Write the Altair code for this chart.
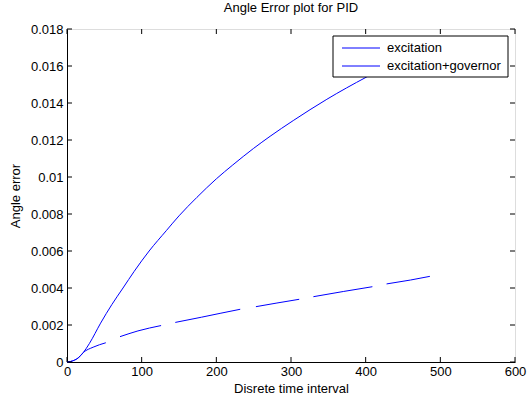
import altair as alt
import pandas as pd

# ---- data ----
exc_x = [0, 5, 10, 15, 22, 30, 45, 60, 75, 90, 110, 133, 150, 174, 200, 222, 250, 272, 303, 348, 401, 450, 486]
exc_y = [0, 0.00003, 0.0001, 0.00022, 0.00052, 0.0010, 0.0021, 0.0031, 0.0040, 0.0049, 0.0060, 0.0071,
         0.0079, 0.0089, 0.0099, 0.01065, 0.01155, 0.0122, 0.01305, 0.0142, 0.0154, 0.0164, 0.0171]

# dashed curve (excitation+governor), one list per visible dash
gov_x = [[0, 5, 10, 15, 22, 35, 52],
         [71, 95, 126],
         [145, 180, 205, 232],
         [253, 280, 311],
         [330, 370, 409],
         [428, 460, 486]]
gov_y = [[0, 0.00003, 0.0001, 0.00022, 0.00052, 0.0008, 0.00104],
         [0.00137, 0.00168, 0.00197],
         [0.00214, 0.00242, 0.00263, 0.00285],
         [0.00299, 0.00318, 0.00339],
         [0.00353, 0.00381, 0.00407],
         [0.00422, 0.00443, 0.00463]]

series_names = ["excitation", "excitation+governor"]
x_ticks = [0, 100, 200, 300, 400, 500, 600]
y_ticks = [0, 0.002, 0.004, 0.006, 0.008, 0.01, 0.012, 0.014, 0.016, 0.018]

# ---- tables ----
rows = []
for xv, yv in zip(exc_x, exc_y):
    rows.append({"series": series_names[0], "seg": "e0", "x": xv, "y": yv})
for i, (xs, ys) in enumerate(zip(gov_x, gov_y)):
    for xv, yv in zip(xs, ys):
        rows.append({"series": series_names[1], "seg": f"g{i}", "x": xv, "y": yv})
df = pd.DataFrame(rows)
xt = pd.DataFrame({"x": x_ticks})
yt = pd.DataFrame({"y": y_ticks})

FONT = "Liberation Sans"
W, H = 448, 333
TL = 5  # inward tick length

xscale = alt.Scale(domain=[0, 600], nice=False, zero=False)
yscale = alt.Scale(domain=[0, 0.018], nice=False, zero=False)
xaxis = alt.Axis(values=x_ticks, ticks=False, grid=False, domainColor="black",
                 labelColor="black", labelFont=FONT, labelFontSize=13, labelPadding=3,
                 labelFlush=False, labelOverlap=False,
                 title="Disrete time interval", titleFont=FONT, titleFontSize=13,
                 titleFontWeight="normal", titleColor="black", titleY=26, titleBaseline="middle")
yaxis = alt.Axis(values=y_ticks, ticks=False, grid=False, domainColor="black", format="~g",
                 labelColor="black", labelFont=FONT, labelFontSize=13, labelPadding=4,
                 labelFlush=False, labelOverlap=False,
                 title="Angle error", titleFont=FONT, titleFontSize=13, titleFontWeight="normal",
                 titleColor="black", titleX=-52, titleY=H / 2, titleBaseline="middle")

xenc = alt.X("x:Q", scale=xscale, axis=xaxis)
yenc = alt.Y("y:Q", scale=yscale, axis=yaxis)

lines = alt.Chart(df).mark_line(color="#0000ff", strokeWidth=1, interpolate="monotone").encode(
    x=xenc, y=yenc, detail="seg:N", order="x:Q")

tick_bottom = alt.Chart(xt).mark_rule(color="black").encode(
    x=xenc, y=alt.value(H), y2=alt.value(H - TL))
tick_top = alt.Chart(xt).mark_rule(color="black").encode(
    x=xenc, y=alt.value(0), y2=alt.value(TL))
tick_left = alt.Chart(yt).mark_rule(color="black").encode(
    y=yenc, x=alt.value(0), x2=alt.value(TL))
tick_right = alt.Chart(yt).mark_rule(color="black").encode(
    y=yenc, x=alt.value(W), x2=alt.value(W - TL))

# legend box
leg_df = pd.DataFrame({"series": series_names})
leg_box = alt.Chart(leg_df.head(1)).mark_rect(fill="white", stroke="black", strokeWidth=1).encode(
    x=alt.value(266), x2=alt.value(441), y=alt.value(7), y2=alt.value(48))
leg_layers = [leg_box]
for i, name in enumerate(series_names):
    ry = 19 + 18 * i
    one = pd.DataFrame({"series": [name]})
    leg_layers.append(alt.Chart(one).mark_rule(color="#0000ff", strokeWidth=1).encode(
        x=alt.value(275), x2=alt.value(313), y=alt.value(ry)))
    leg_layers.append(alt.Chart(one).mark_text(
        align="left", baseline="middle", font=FONT, fontSize=13, color="black").encode(
        x=alt.value(320), y=alt.value(ry), text="series:N"))

chart = alt.layer(lines, tick_bottom, tick_top, tick_left, tick_right, *leg_layers).properties(
    width=W, height=H,
    title=alt.TitleParams("Angle Error plot for PID", font=FONT, fontSize=13,
                          fontWeight="normal", color="black", offset=8),
    autosize=alt.AutoSizeParams(type="none"),
    padding={"left": 67, "top": 29, "right": 12, "bottom": 36},
).configure_view(stroke="black", strokeWidth=1).configure(background="white")

chart.save("out.html", embed_options={"renderer": "svg", "actions": False})
